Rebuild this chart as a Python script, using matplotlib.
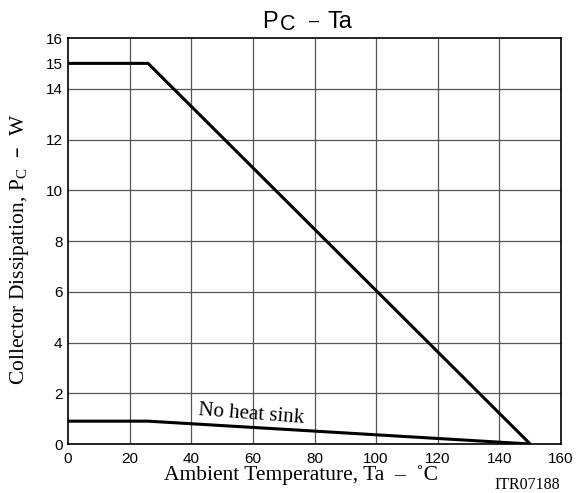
import matplotlib
matplotlib.use("Agg")
import matplotlib.pyplot as plt

# derating curves
ta_hs = [0, 26, 150]
pc_hs = [15, 15, 0]
ta_nohs = [0, 26, 150]
pc_nohs = [0.9, 0.9, 0]

xticks = [0, 20, 40, 60, 80, 100, 120, 140, 160]
yticks = [0, 2, 4, 6, 8, 10, 12, 14, 15, 16]
ygrid = [2, 4, 6, 8, 10, 12, 14]

W, H = 581, 493
fig = plt.figure(figsize=(W / 100, H / 100), dpi=100)
ax = fig.add_axes([68 / W, 1 - 444 / H, 493 / W, 406 / H])

sans = "Liberation Sans"
serif = "Liberation Serif"


def px(x, y):
    # pixel position (from top-left) -> figure fraction
    return x / W, 1 - y / H


for x in xticks[1:-1]:
    ax.axvline(x, color="#555555", lw=0.9, zorder=1)
for y in ygrid:
    ax.axhline(y, color="#555555", lw=0.9, zorder=1)

ax.plot(ta_hs, pc_hs, color="black", lw=2.2, solid_capstyle="butt", zorder=3)
ax.plot(ta_nohs, pc_nohs, color="black", lw=2.2, solid_capstyle="butt", zorder=3)

ax.set_xlim(0, 160)
ax.set_ylim(0, 16)
ax.set_xticks(xticks)
ax.set_yticks(yticks)
ax.tick_params(length=0)
ax.tick_params(axis="x", pad=6)
ax.tick_params(axis="y", pad=4)
for lbl in ax.get_xticklabels() + ax.get_yticklabels():
    lbl.set_fontfamily(sans)
    lbl.set_fontsize(11)
for s in ax.spines.values():
    s.set_linewidth(1.2)

# title "PC - Ta" built from pieces, C is slightly lowered
fig.text(*px(262, 28), "P", fontfamily=sans, fontsize=17, ha="left", va="baseline")
fig.text(*px(280, 30), "C", fontfamily=sans, fontsize=15.5, ha="left", va="baseline")
fig.text(*px(309, 26), "–", fontfamily=sans, fontsize=13, ha="left", va="baseline")
fig.text(*px(327, 28), "Ta", fontfamily=sans, fontsize=17, ha="left", va="baseline")

ax.set_xlabel("Ambient Temperature, Ta  –  ˚C", fontfamily=serif, fontsize=15.5)
ax.xaxis.set_label_coords((301.5 - 68) / 493, (444 - 465) / 406)
ax.set_ylabel(r"Collector Dissipation, P$_{\mathregular{C}}$  –  W", fontfamily=serif,
              fontsize=15.5)
ax.yaxis.set_label_coords((31 - 68) / 493, (444 - 249) / 406)

ax.text(42.3, 1.14, "No heat sink", fontfamily=serif, fontsize=15, rotation=-4.3,
        ha="left", va="baseline", rotation_mode="anchor")
fig.text(*px(560, 489), "ITR07188", fontfamily=serif, fontsize=11.5, ha="right", va="baseline")

fig.savefig("out.png", dpi=100)
